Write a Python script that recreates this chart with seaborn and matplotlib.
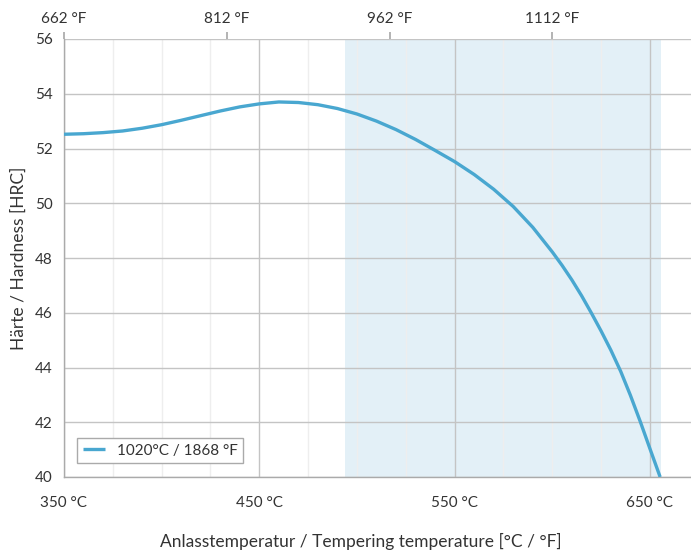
import matplotlib
matplotlib.use("Agg")
import matplotlib.pyplot as plt
import seaborn as sns
import pandas as pd
from matplotlib.ticker import MultipleLocator

# Data
temp_c = [350, 360, 370, 380, 390, 400, 410, 420, 430, 440, 450, 460, 470, 480,
          490, 500, 510, 520, 530, 540, 550, 560, 570, 580, 590, 600, 605, 610,
          615, 620, 625, 630, 635, 640, 645, 650, 655.2]
hardness = [52.52, 52.54, 52.58, 52.64, 52.74, 52.87, 53.03, 53.20, 53.37, 53.52,
            53.63, 53.70, 53.68, 53.60, 53.46, 53.26, 53.00, 52.69, 52.33, 51.93,
            51.52, 51.05, 50.51, 49.88, 49.12, 48.22, 47.73, 47.20, 46.62, 45.99,
            45.33, 44.63, 43.86, 42.98, 42.03, 41.03, 40.00]
series_label = "1020°C / 1868 °F"
shade_range = (494, 655.5)
x_ticks_c = [350, 450, 550, 650]
top_ticks_f = [662, 812, 962, 1112]
y_ticks = [40, 42, 44, 46, 48, 50, 52, 54, 56]

sns.set_theme(style="white")
plt.rcParams['font.family'] = ['Lato', 'DejaVu Sans']
plt.rcParams['text.color'] = '#333333'

fig = plt.figure(figsize=(6.91, 5.51), dpi=100)
ax = fig.add_axes([64/691, 1-477/551, (691-64)/691, (477-39)/551])

ax.axvspan(shade_range[0], shade_range[1], color='#e3f0f7', zorder=0, lw=0)

df = pd.DataFrame({"t": temp_c, "h": hardness, "s": series_label})
sns.lineplot(data=df, x="t", y="h", hue="s", palette=["#49a7d0"], lw=2.4, ax=ax, zorder=3)
for ln in ax.lines:
    ln.set_solid_joinstyle('round')
    ln.set_solid_capstyle('butt')

ax.set_xlim(350, 671)
ax.set_ylim(40, 56)
ax.set_xticks(x_ticks_c)
ax.set_xticklabels([f"{t} °C" for t in x_ticks_c])
ax.xaxis.set_minor_locator(MultipleLocator(25))
ax.set_yticks(y_ticks)
ax.set_yticklabels([str(v) for v in y_ticks])

ax.grid(True, which='major', color='#c4c4c4', lw=1.0, zorder=1)
ax.grid(True, which='minor', axis='x', color='#eeeeee', lw=1.0, zorder=1)
ax.set_axisbelow(True)

for s in ['top', 'right']:
    ax.spines[s].set_visible(False)
for s in ['left', 'bottom']:
    ax.spines[s].set_color('#aaaaaa')
    ax.spines[s].set_linewidth(1.0)

ax.tick_params(axis='both', which='major', length=5, color='#aaaaaa', width=1,
               labelsize=11, labelcolor='#333333', pad=3)
ax.tick_params(axis='x', which='minor', length=0)
ax.tick_params(axis='x', which='major', pad=9)

ax.set_xlabel("Anlasstemperatur / Tempering temperature [°C / °F]", fontsize=12.5,
              color='#333333')
ax.xaxis.set_label_coords(0.474, -0.127)
ax.set_ylabel("Härte / Hardness [HRC]", fontsize=12.5, color='#333333', labelpad=6)

secax = ax.secondary_xaxis('top', functions=(lambda c: c*1.8+32, lambda f: (f-32)/1.8))
secax.set_xticks(top_ticks_f)
secax.set_xticklabels([f"{f} °F" for f in top_ticks_f])
secax.spines['top'].set_visible(False)
secax.tick_params(axis='x', length=5, color='#aaaaaa', labelsize=11, labelcolor='#333333', pad=4)

leg = ax.legend(loc='lower left', bbox_to_anchor=(0.021, 0.032), borderaxespad=0,
                frameon=True, fancybox=False, fontsize=11, handlelength=1.5,
                handletextpad=0.75, borderpad=0.35)
leg.get_frame().set_edgecolor('#aaaaaa')
leg.get_frame().set_linewidth(1.0)
leg.get_frame().set_facecolor('white')
leg.get_frame().set_alpha(1.0)

fig.savefig("out.png", dpi=100)
